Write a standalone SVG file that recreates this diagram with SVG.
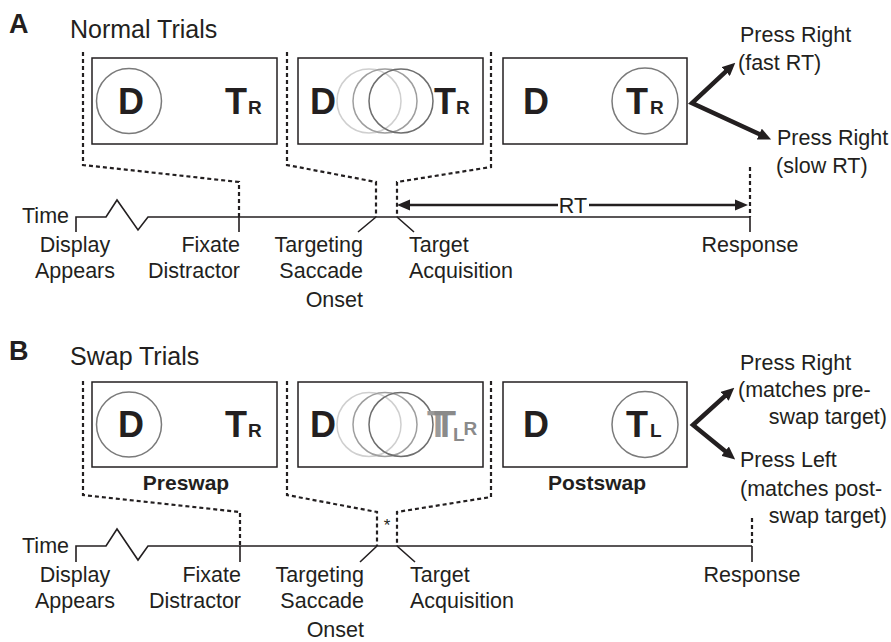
<svg xmlns="http://www.w3.org/2000/svg" width="891" height="642" viewBox="0 0 891 642">
<defs>
<style>
text{font-family:"Liberation Sans",Arial,sans-serif;fill:#231f20}
.lbl{font-size:21.5px}
.ttl{font-size:25px}
.pl{font-size:27px;font-weight:bold}
.big{font-size:36px;font-weight:bold}
.sub{font-size:19px;font-weight:bold}
.bold{font-size:21px;font-weight:bold}
.box{fill:#fff;stroke:#231f20;stroke-width:1.5}
.ring{fill:none;stroke:#7a7a7a;stroke-width:1.5}
.dot{fill:none;stroke:#231f20;stroke-width:2.2;stroke-dasharray:4 3}
.tl{fill:none;stroke:#231f20;stroke-width:1.6}
.thick{fill:none;stroke:#231f20;stroke-width:4.5;stroke-linejoin:miter;stroke-miterlimit:10}
.rt{stroke:#231f20;stroke-width:2.5}
</style>
<marker id="ah" viewBox="0 0 13 12" refX="1" refY="6" markerWidth="13" markerHeight="12" markerUnits="userSpaceOnUse" orient="auto-start-reverse">
<path d="M0,0 L13,6 L0,12 z" fill="#231f20"/>
</marker>
</defs>

<!-- Panel A -->
<g id="titleA">
<text class="pl" x="9" y="33">A</text>
<text class="ttl" x="70" y="38">Normal Trials</text>
</g>
<g id="A-box1">
<rect class="box" x="92" y="58" width="185" height="86"/>
<circle class="ring" cx="129" cy="101" r="32.5"/>
<text class="big" x="131" y="114" text-anchor="middle">D</text>
<text class="big" x="225" y="114">T</text>
<text class="sub" x="248" y="114">R</text>
</g>
<g id="A-box2">
<rect class="box" x="298" y="58" width="185" height="86"/>
<circle cx="369" cy="101" r="32" fill="none" stroke="#cfcfcf" stroke-width="1.5"/>
<circle cx="385" cy="101" r="32" fill="none" stroke="#9e9e9e" stroke-width="1.5"/>
<circle cx="401" cy="101" r="32" fill="none" stroke="#6e6e6e" stroke-width="1.5"/>
<text class="big" x="310" y="114">D</text>
<text class="big" x="434" y="114">T</text>
<text class="sub" x="456" y="114">R</text>
</g>
<g id="A-box3">
<rect class="box" x="503" y="58" width="184" height="86"/>
<circle class="ring" cx="645" cy="101" r="33"/>
<text class="big" x="523" y="114">D</text>
<text class="big" x="626" y="114">T</text>
<text class="sub" x="650" y="114">R</text>
</g>
<g id="A-time">
<text class="lbl" x="69" y="223" text-anchor="end">Time</text>
</g>
<g id="A-display"><text class="lbl" x="75" y="252" text-anchor="middle">Display</text><text class="lbl" x="75" y="278" text-anchor="middle">Appears</text></g>
<g id="A-fixate"><text class="lbl" x="240" y="252" text-anchor="end">Fixate</text><text class="lbl" x="240" y="278" text-anchor="end">Distractor</text></g>
<g id="A-saccade"><text class="lbl" x="363" y="252" text-anchor="end">Targeting</text><text class="lbl" x="363" y="278" text-anchor="end">Saccade</text><text class="lbl" x="363" y="307" text-anchor="end">Onset</text></g>
<g id="A-acq"><text class="lbl" x="409" y="252">Target</text><text class="lbl" x="409" y="278">Acquisition</text></g>
<g id="A-response"><text class="lbl" x="750" y="252" text-anchor="middle">Response</text></g>
<g id="A-fast"><text class="lbl" x="740" y="42">Press Right</text><text class="lbl" x="738" y="70">(fast RT)</text></g>
<g id="A-slow"><text class="lbl" x="777" y="145">Press Right</text><text class="lbl" x="776" y="173">(slow RT)</text></g>
<g id="A-rtlabel"><text class="lbl" x="573" y="213" text-anchor="middle">RT</text></g>

<!-- Panel B -->
<g id="titleB">
<text class="pl" x="9" y="360">B</text>
<text class="ttl" x="70" y="365">Swap Trials</text>
</g>
<g id="B-box1">
<rect class="box" x="92" y="382" width="185" height="85"/>
<circle class="ring" cx="129" cy="424.5" r="32.5"/>
<text class="big" x="131" y="437" text-anchor="middle">D</text>
<text class="big" x="225" y="437">T</text>
<text class="sub" x="248" y="437">R</text>
<text class="bold" x="186" y="490" text-anchor="middle">Preswap</text>
</g>
<g id="B-box2">
<rect class="box" x="298" y="382" width="185" height="85"/>
<circle cx="369" cy="424.5" r="32" fill="none" stroke="#cfcfcf" stroke-width="1.5"/>
<circle cx="385" cy="424.5" r="32" fill="none" stroke="#9e9e9e" stroke-width="1.5"/>
<circle cx="401" cy="424.5" r="32" fill="none" stroke="#6e6e6e" stroke-width="1.5"/>
<text class="big" x="310" y="437">D</text>
<text class="big" x="427" y="437" style="fill:#8a8a8a"><tspan style="fill:#9a9a9a">T</tspan><tspan dx="-15">T</tspan><tspan class="sub" dx="-3" dy="4" style="font-size:19px">L</tspan><tspan class="sub" dx="-1" dy="-6" style="font-size:19px">R</tspan></text>
</g>
<g id="B-box3">
<rect class="box" x="503" y="382" width="184" height="85"/>
<circle class="ring" cx="645" cy="424.5" r="33"/>
<text class="big" x="523" y="437">D</text>
<text class="big" x="626" y="437">T</text>
<text class="sub" x="650" y="437">L</text>
<text class="bold" x="597" y="490" text-anchor="middle">Postswap</text>
</g>
<g id="B-time"><text class="lbl" x="69" y="553" text-anchor="end">Time</text></g>
<g id="B-display"><text class="lbl" x="75" y="582" text-anchor="middle">Display</text><text class="lbl" x="75" y="608" text-anchor="middle">Appears</text></g>
<g id="B-fixate"><text class="lbl" x="241" y="582" text-anchor="end">Fixate</text><text class="lbl" x="241" y="608" text-anchor="end">Distractor</text></g>
<g id="B-saccade"><text class="lbl" x="364" y="582" text-anchor="end">Targeting</text><text class="lbl" x="364" y="608" text-anchor="end">Saccade</text><text class="lbl" x="364" y="637" text-anchor="end">Onset</text></g>
<g id="B-acq"><text class="lbl" x="410" y="582">Target</text><text class="lbl" x="410" y="608">Acquisition</text></g>
<g id="B-response"><text class="lbl" x="752" y="582" text-anchor="middle">Response</text></g>
<g id="B-star"><text class="lbl" x="387" y="531" text-anchor="middle" style="font-size:17px">*</text></g>
<g id="B-right"><text class="lbl" x="740" y="370">Press Right</text><text class="lbl" x="738" y="397">(matches pre-</text><text class="lbl" x="887" y="424" text-anchor="end">swap target)</text></g>
<g id="B-left"><text class="lbl" x="740" y="467">Press Left</text><text class="lbl" x="740" y="496">(matches post-</text><text class="lbl" x="887" y="523" text-anchor="end">swap target)</text></g>

<g id="connectors">
<path class="dot" d="M83,52 V165 L239,182 V217"/>
<path class="dot" d="M287,52 V165 L376,182 V217"/>
<path class="dot" d="M491,52 V167 L397,182 V217"/>
<path class="dot" d="M750,167 V217"/>
<path class="tl" d="M76,232 V217 H106 L117,200 L138,230 L148,217 H750"/>
<path class="tl" d="M239,217 V232 M750,217 V232 M376,217 L358,232 M397,217 L414,232"/>
<line class="rt" x1="409" y1="205" x2="558" y2="205"/>
<line class="rt" x1="589" y1="205" x2="737" y2="205"/>
<polygon points="397,205 410,199.5 410,210.5" fill="#231f20"/>
<polygon points="748,205 735,199.5 735,210.5" fill="#231f20"/>
<path class="thick" d="M726.5,70.9 L692,103 L760.2,134.5" marker-start="url(#ah)" marker-end="url(#ah)"/>
<path class="dot" d="M83,381 V495 L240,512 V546"/>
<path class="dot" d="M287,381 V495 L377,512 V546"/>
<path class="dot" d="M491,381 V497 L397,512 V546"/>
<path class="dot" d="M752,518 V546"/>
<path class="tl" d="M76,562 V546 H106 L117,529 L138,560 L148,546 H752"/>
<path class="tl" d="M240,546 V562 M752,546 V562 M377,546 L360,562 M397,546 L415,562"/>
<path class="thick" d="M725.4,395.7 L693,425 L725.9,451.8" marker-start="url(#ah)" marker-end="url(#ah)"/>
</g>
</svg>
